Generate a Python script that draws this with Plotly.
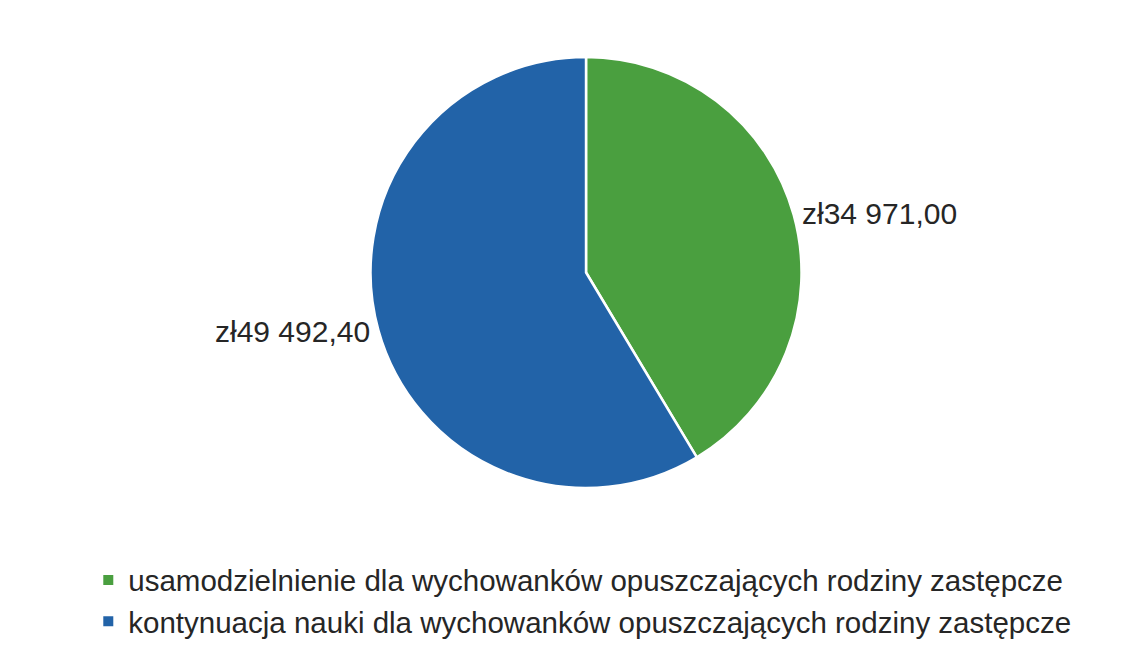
import plotly.graph_objects as go

labels = [
    "usamodzielnienie dla wychowanków opuszczających rodziny zastępcze",
    "kontynuacja nauki dla wychowanków opuszczających rodziny zastępcze",
]
values = [34971.00, 49492.40]
value_texts = ["zł34 971,00", "zł49 492,40"]
colors = ["#4A9F3F", "#2263A8"]

fig = go.Figure(
    go.Pie(
        labels=labels,
        values=values,
        text=value_texts,
        textinfo="text",
        textposition="outside",
        sort=False,
        direction="clockwise",
        rotation=0,
        marker=dict(colors=colors, line=dict(color="white", width=2.5)),
        textfont=dict(family="Liberation Sans, Arial, sans-serif", size=30, color="#262626"),
        domain=dict(x=[0.0157, 0.9922], y=[0.2672, 0.9252]),
        showlegend=True,
        hoverinfo="label+value",
    )
)

fig.update_layout(
    width=1147,
    height=655,
    margin=dict(l=0, r=0, t=0, b=0, autoexpand=False),
    paper_bgcolor="white",
    plot_bgcolor="white",
    font=dict(family="Liberation Sans, Arial, sans-serif", color="#262626"),
    legend=dict(
        x=0.07,
        y=0.166,
        xref="paper",
        yref="paper",
        xanchor="left",
        yanchor="top",
        orientation="v",
        font=dict(size=29.5, color="#262626"),
        itemsizing="constant",
    ),
)

fig.write_html("out.html")
